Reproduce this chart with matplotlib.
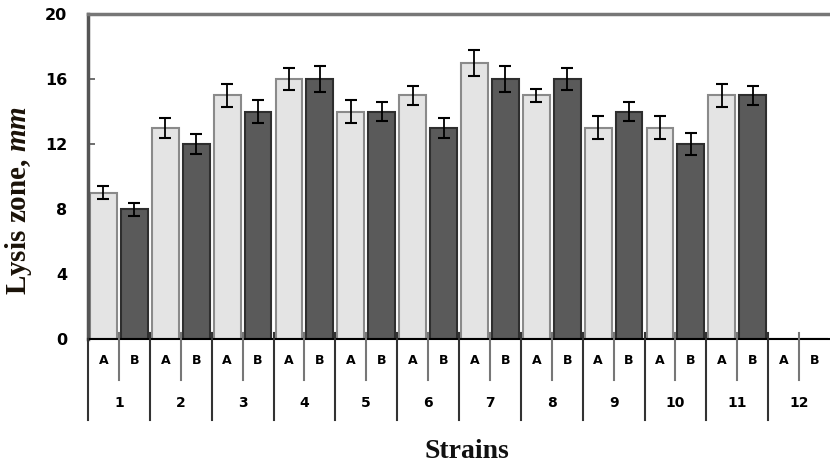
import matplotlib
matplotlib.use("Agg")
import matplotlib.pyplot as plt
import matplotlib.transforms as mtransforms
import numpy as np

plt.rcParams["mathtext.fontset"] = "custom"
plt.rcParams["mathtext.rm"] = "Liberation Serif:bold"
plt.rcParams["mathtext.bf"] = "Liberation Serif:bold"
plt.rcParams["mathtext.it"] = "Liberation Serif:italic:bold"
plt.rcParams["mathtext.bfit"] = "Liberation Serif:italic:bold"

strains = ["1", "2", "3", "4", "5", "6", "7", "8", "9", "10", "11", "12"]
groups = ["A", "B"]
values_A = [9, 13, 15, 16, 14, 15, 17, 15, 13, 13, 15, 0]
values_B = [8, 12, 14, 16, 14, 13, 16, 16, 14, 12, 15, 0]
err_A = [0.4, 0.6, 0.7, 0.7, 0.7, 0.6, 0.8, 0.4, 0.7, 0.7, 0.7, 0]
err_B = [0.4, 0.6, 0.7, 0.8, 0.6, 0.6, 0.8, 0.7, 0.6, 0.7, 0.6, 0]
yticks = [0, 4, 8, 12, 16, 20]

fig = plt.figure(figsize=(8.3, 4.67), dpi=100)
ax = fig.add_axes([88/830, 1-339/467, 742/830, 325/467])

n = len(strains)
xA = np.arange(n) * 2
xB = xA + 1
w = 0.87
ax.bar(xA, values_A, width=w, color="#e4e4e4", edgecolor="#8a8a8a", linewidth=1.5, zorder=2)
ax.bar(xB, values_B, width=w, color="#5a5a5a", edgecolor="#2e2e2e", linewidth=1.5, zorder=2)
mA = np.array(values_A) > 0
mB = np.array(values_B) > 0
ax.errorbar(xA[mA], np.array(values_A)[mA], yerr=np.array(err_A)[mA], fmt="none",
            ecolor="black", elinewidth=1.3, capsize=4, capthick=1.5, zorder=3)
ax.errorbar(xB[mB], np.array(values_B)[mB], yerr=np.array(err_B)[mB], fmt="none",
            ecolor="black", elinewidth=1.3, capsize=4, capthick=1.5, zorder=3)

ax.set_xlim(-0.5, 2*n - 0.5)
ax.set_ylim(0, 20)
ax.set_yticks(yticks)
ax.set_yticklabels([str(t) for t in yticks], fontsize=11.5, fontweight="bold", family="DejaVu Sans")
ax.tick_params(axis="y", direction="in", length=5, width=1.2, pad=15, color="#555555")
ax.set_xticks([])

ax.spines["right"].set_visible(False)
ax.spines["left"].set_color("#555555")
ax.spines["left"].set_linewidth(2.5)
ax.spines["top"].set_color("#777777")
ax.spines["top"].set_linewidth(2.5)
ax.spines["bottom"].set_color("black")
ax.spines["bottom"].set_linewidth(1.5)

trans = mtransforms.blended_transform_factory(ax.transData, ax.transAxes)
y_ab_bot = -(380-339)/325
y_st_bot = -(420-339)/325
y_top = (339-333)/325
for i in range(n):
    xs = 2*i + 0.5
    ax.plot([xs, xs], [y_top, y_ab_bot], transform=trans, color="#777777", lw=1.5, clip_on=False, zorder=4)
    xl = 2*i - 0.5
    ax.plot([xl, xl], [y_top if i > 0 else 0, y_st_bot], transform=trans, color="#333333", lw=1.5, clip_on=False, zorder=4)
    ax.text(2*i, -(361-339)/325, groups[0], transform=trans, ha="center", va="center",
            fontsize=9, fontweight="bold")
    ax.text(2*i+1, -(361-339)/325, groups[1], transform=trans, ha="center", va="center",
            fontsize=9, fontweight="bold")
    ax.text(2*i+0.5, -(403-339)/325, strains[i], transform=trans, ha="center", va="center",
            fontsize=10, fontweight="bold")

fig.text(18/830, 1-200/467, r"Lysis zone, $\mathit{mm}$", rotation=90, ha="center", va="center",
         fontsize=21, fontweight="bold", family="Liberation Serif", color="#1a1208")
fig.text(467/830, 1-452/467, "Strains", ha="center", va="center",
         fontsize=20, fontweight="bold", family="Liberation Serif", color="#111111")

fig.savefig("out.png", dpi=100)
